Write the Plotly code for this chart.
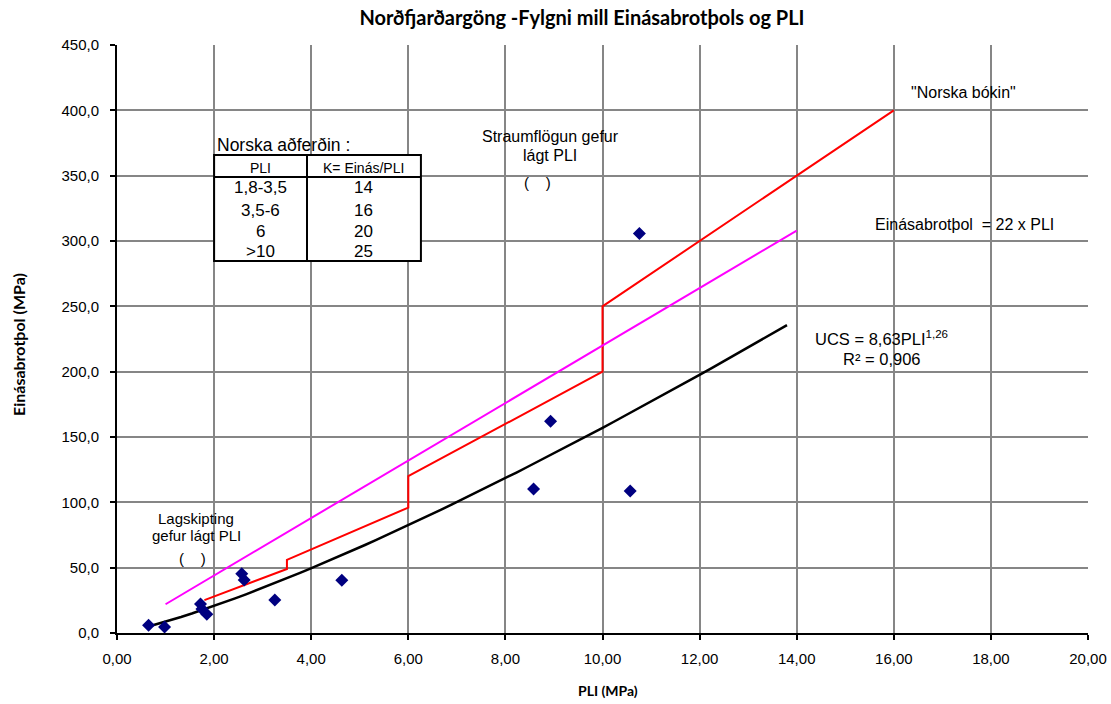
import numpy as np
import plotly.graph_objects as go

# Measured data
pli = [0.65, 0.98, 1.72, 1.75, 1.85, 2.57, 2.62, 3.25, 4.63, 8.58, 8.93, 10.57, 10.76]
ucs = [6.0, 4.6, 22.2, 18.4, 14.3, 45.4, 40.5, 25.2, 40.3, 110.2, 162.0, 108.6, 305.8]

# "Norska bókin" step line
norsk_x = [1.8, 3.5, 3.5, 6.0, 6.0, 10.0, 10.0, 16.0]
norsk_y = [25.2, 49.0, 56.0, 96.0, 120.0, 200.0, 250.0, 400.0]

# Einásabrotþol = 22 x PLI
lin_x = [1.0, 14.0]
lin_y = [22.0, 308.0]

# Power trendline UCS = a * PLI^b (equation shown on the chart)
trend_a = 8.63
trend_b = 1.26
trend_x = np.linspace(0.65, 13.8, 60)
trend_y = trend_a * trend_x ** trend_b

# Axis ticks
x_ticks = [0, 2, 4, 6, 8, 10, 12, 14, 16, 18, 20]
x_ticklabels = ["0,00", "2,00", "4,00", "6,00", "8,00", "10,00", "12,00", "14,00", "16,00", "18,00", "20,00"]
y_ticks = [0, 50, 100, 150, 200, 250, 300, 350, 400, 450]
y_ticklabels = ["0,0", "50,0", "100,0", "150,0", "200,0", "250,0", "300,0", "350,0", "400,0", "450,0"]

# Table
table_header = ["PLI", "K= Einás/PLI"]
table_pli = ["1,8-3,5", "3,5-6", "6", ">10"]
table_k = ["14", "16", "20", "25"]

fig = go.Figure()
fig.add_trace(go.Scatter(x=trend_x, y=trend_y, mode="lines",
                         line=dict(color="black", width=2.5), showlegend=False))
fig.add_trace(go.Scatter(x=norsk_x, y=norsk_y, mode="lines",
                         line=dict(color="#ff0000", width=2), showlegend=False))
fig.add_trace(go.Scatter(x=lin_x, y=lin_y, mode="lines",
                         line=dict(color="#ff00ff", width=2), showlegend=False))
fig.add_trace(go.Scatter(x=pli, y=ucs, mode="markers",
                         marker=dict(symbol="diamond", color="#000080", size=10), showlegend=False))

grid = "#868686"
font_main = "Liberation Sans, Arial, sans-serif"
font_bold = "Lato, Open Sans, sans-serif"

W, H = 1111, 704
fig.update_layout(
    width=W, height=H,
    margin=dict(l=117, r=23, t=45, b=71, autoexpand=False),
    paper_bgcolor="white", plot_bgcolor="white",
    font=dict(family=font_main, size=13, color="black"),
    title=dict(text="<b>Norðfjarðargöng -Fylgni mill Einásabrotþols og PLI</b>",
               x=582 / W, xanchor="center", y=1 - 18 / H, yanchor="middle",
               font=dict(family=font_bold, size=20, color="black")),
    xaxis=dict(range=[0, 20], tickvals=x_ticks, ticktext=x_ticklabels,
               automargin=False,
               showgrid=True, gridcolor=grid, gridwidth=2,
               zeroline=False, showline=True, linecolor="black", linewidth=2,
               ticks="outside", ticklen=5, tickcolor="black", tickwidth=2,
               ticklabelstandoff=6,
               tickfont=dict(size=15)),
    yaxis=dict(range=[0, 450], tickvals=y_ticks, ticktext=y_ticklabels,
               automargin=False,
               showgrid=True, gridcolor=grid, gridwidth=2,
               zeroline=False, showline=True, linecolor="black", linewidth=2,
               ticks="outside", ticklen=5, tickcolor="black", tickwidth=2,
               ticklabelstandoff=8,
               tickfont=dict(size=15)),
)

# Axis titles
fig.add_annotation(xref="paper", yref="paper", x=0.5, y=0, xshift=5, yshift=-57,
                   xanchor="center", yanchor="middle", showarrow=False,
                   text="<b>PLI (MPa)</b>", font=dict(family=font_bold, size=14))
fig.add_annotation(xref="paper", yref="paper", x=0, y=0.5, xshift=-99, yshift=-6,
                   xanchor="center", yanchor="middle", showarrow=False, textangle=-90,
                   text="<b>Einásabrotþol (MPa)</b>", font=dict(family=font_bold, size=16))

# Table shapes (data coordinates)
tx0, tx1, tx2 = 2.0, 3.913, 6.26
ty_top, ty_head, ty_bot = 365.8, 349.0, 284.7
fig.add_shape(type="rect", x0=tx0, x1=tx2, y0=ty_bot, y1=ty_top,
              line=dict(color="black", width=2), fillcolor="white", layer="above")
fig.add_shape(type="line", x0=tx1, x1=tx1, y0=ty_bot, y1=ty_top,
              line=dict(color="black", width=2), layer="above")
fig.add_shape(type="line", x0=tx0, x1=tx2, y0=ty_head, y1=ty_head,
              line=dict(color="black", width=2), layer="above")

fig.add_annotation(x=tx0 + 0.01, y=373.5, xanchor="left", yanchor="middle",
                   text="Norska aðferðin :", showarrow=False, font=dict(size=17.5))
fig.add_annotation(x=(tx0 + tx1) / 2, y=355.5, text=table_header[0],
                   showarrow=False, font=dict(size=14))
fig.add_annotation(x=(tx1 + tx2) / 2, y=355.5, text=table_header[1],
                   showarrow=False, font=dict(size=14))
row_y = [340.6, 323.7, 307.6, 291.6]
for p, k, yc in zip(table_pli, table_k, row_y):
    fig.add_annotation(x=(tx0 + tx1) / 2, y=yc, text=p, showarrow=False, font=dict(size=17))
    fig.add_annotation(x=(tx1 + tx2) / 2, y=yc, text=k, showarrow=False, font=dict(size=17))

# Text annotations
fig.add_annotation(x=1.63, y=88.0, text="Lagskipting", showarrow=False, font=dict(size=15))
fig.add_annotation(x=1.63, y=75.0, text="gefur lágt PLI", showarrow=False, font=dict(size=15))
fig.add_annotation(x=1.545, y=57.4, text="(\u00a0\u00a0\u00a0\u00a0)", showarrow=False, font=dict(size=15))
fig.add_annotation(x=8.92, y=379.6, text="Straumflögun gefur", showarrow=False, font=dict(size=16))
fig.add_annotation(x=8.92, y=365.8, text="lágt PLI", showarrow=False, font=dict(size=16))
fig.add_annotation(x=8.67, y=344.4, text="(\u00a0\u00a0\u00a0\u00a0)", showarrow=False, font=dict(size=15))
fig.add_annotation(x=17.43, y=413.3, text="\"Norska bókin\"", showarrow=False, font=dict(size=16))
fig.add_annotation(x=17.46, y=313.0, text="Einásabrotþol\u00a0\u00a0= 22 x PLI", showarrow=False, font=dict(size=16))
fig.add_annotation(x=15.74, y=225.8, text="UCS = 8,63PLI<sup>1,26</sup>", showarrow=False, font=dict(size=16.5))
fig.add_annotation(x=15.76, y=209.7, text="R² = 0,906", showarrow=False, font=dict(size=16.5))

fig.write_html(
    "out.html",
    config={"displayModeBar": False},
    post_script="document.body.style.margin='0';"
                "document.body.style.overflow='hidden';"
                "document.documentElement.style.overflow='hidden';",
)
